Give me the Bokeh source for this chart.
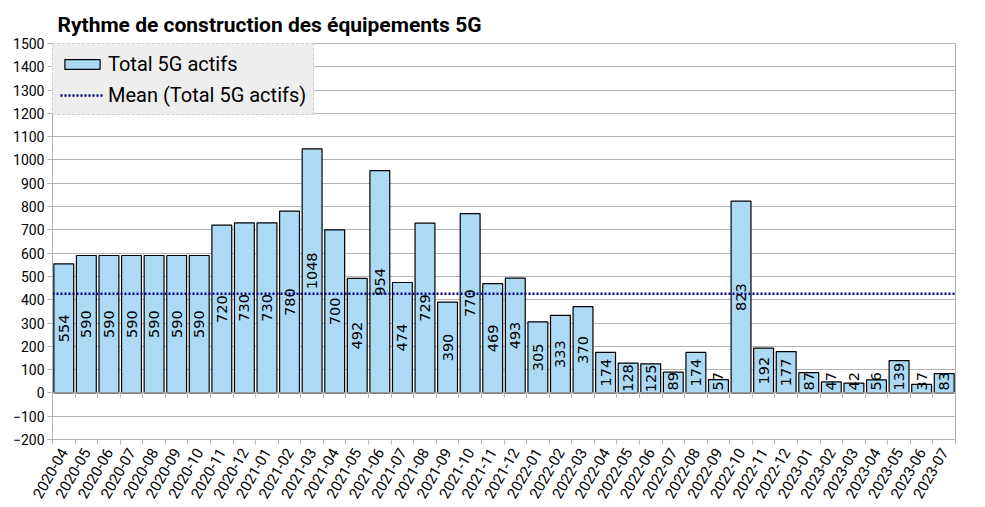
import math
import numpy as np
from bokeh.plotting import figure
from bokeh.models import (ColumnDataSource, FixedTicker, LinearAxis, Range1d,
                          Legend, LegendItem)
from bokeh.core.properties import value
from bokeh.embed import file_html
from bokeh.resources import INLINE

months = ["2020-04", "2020-05", "2020-06", "2020-07", "2020-08", "2020-09",
          "2020-10", "2020-11", "2020-12", "2021-01", "2021-02", "2021-03",
          "2021-04", "2021-05", "2021-06", "2021-07", "2021-08", "2021-09",
          "2021-10", "2021-11", "2021-12", "2022-01", "2022-02", "2022-03",
          "2022-04", "2022-05", "2022-06", "2022-07", "2022-08", "2022-09",
          "2022-10", "2022-11", "2022-12", "2023-01", "2023-02", "2023-03",
          "2023-04", "2023-05", "2023-06", "2023-07"]
total_5g = [554, 590, 590, 590, 590, 590, 590, 720, 730, 730, 780, 1048,
            700, 492, 954, 474, 729, 390, 770, 469, 493, 305, 333, 370,
            174, 128, 125, 89, 174, 57, 823, 192, 177, 87, 47, 42,
            56, 139, 37, 83]
y_ticks = list(range(-200, 1501, 100))

n = len(months)
idx = np.arange(n)
vals = np.array(total_5g, dtype=float)
mean_val = vals.mean()
label_y = np.maximum(vals / 2.0, 50.0)

src = ColumnDataSource(dict(x=idx, top=vals, label=[str(v) for v in total_5g],
                            ly=label_y))

p = figure(width=980, height=505, output_backend="svg", toolbar_location=None,
           x_range=Range1d(-0.5, n - 0.5), y_range=Range1d(-200, 1500),
           min_border_left=52, min_border_right=25, min_border_top=43,
           min_border_bottom=66, title="Rythme de construction des équipements 5G")

p.title.text_font = "Roboto"
p.title.text_font_size = "21px"
p.title.text_font_style = "bold"
p.title.text_color = "black"
p.title.align = "left"
p.title.offset = 5
p.title.standoff = 14

p.outline_line_color = "#b3b3b3"
p.xgrid.visible = False
p.ygrid.ticker = FixedTicker(ticks=y_ticks)
p.ygrid.grid_line_color = "#b3b3b3"
p.background_fill_color = "white"

# y axis
p.yaxis.ticker = FixedTicker(ticks=y_ticks)
p.yaxis.axis_line_color = "#b3b3b3"
p.yaxis.major_tick_line_color = "#b3b3b3"
p.yaxis.major_tick_out = 5
p.yaxis.major_tick_in = 0
p.yaxis.minor_tick_line_color = None
p.yaxis.major_label_text_font = "Roboto"
p.yaxis.major_label_text_font_size = "14px"
p.yaxis.major_label_text_color = "black"
p.yaxis.major_label_standoff = 3

# x axis: labels at centres, ticks at boundaries
boundaries = list(np.arange(-0.5, n, 1.0))
xa = p.xaxis[0]
xa.ticker = FixedTicker(ticks=list(idx), minor_ticks=boundaries)
xa.major_label_overrides = {int(i): m for i, m in zip(idx, months)}
xa.major_label_orientation = math.pi / 3
xa.major_label_text_font = "Roboto"
xa.major_label_text_font_size = "15px"
xa.major_label_text_color = "black"
xa.major_tick_line_color = None
xa.minor_tick_line_color = "#b3b3b3"
xa.minor_tick_out = 5
xa.minor_tick_in = 0
xa.axis_line_color = "#b3b3b3"
xa.major_label_standoff = 4

# axis crossing at zero with boundary ticks
zax = LinearAxis(fixed_location=0,
                 ticker=FixedTicker(ticks=[], minor_ticks=boundaries),
                 axis_line_color="#999999", minor_tick_line_color="#b3b3b3",
                 minor_tick_out=5, minor_tick_in=0,
                 major_tick_line_color=None,
                 major_label_text_font_size="0px")
p.add_layout(zax, "below")

bars = p.vbar(x="x", top="top", bottom=0, width=0.88, source=src,
              fill_color="#acdaf5", line_color="black", line_width=1.2)

mean_line = p.line(x=[p.x_range.start, p.x_range.end], y=[mean_val, mean_val],
                   line_color="#000080", line_width=2.5, line_dash="2 2")

p.text(x="x", y="ly", text="label", source=src, angle=math.pi / 2,
       text_align="center", text_baseline="middle",
       text_font=value("DejaVu Sans"), text_font_size="14.5px",
       text_color="black")

legend = Legend(items=[LegendItem(label="Total 5G actifs", renderers=[bars]),
                       LegendItem(label="Mean (Total 5G actifs)", renderers=[mean_line])],
                location="top_left")
legend.margin = 0
legend.padding = 7
legend.spacing = 6
legend.glyph_width = 44
legend.glyph_height = 12
legend.label_height = 25
legend.label_standoff = 4
legend.label_text_font = "Roboto"
legend.label_text_font_size = "20px"
legend.label_text_color = "black"
legend.background_fill_color = "#eeeeee"
legend.background_fill_alpha = 1
legend.border_line_color = "#b3b3b3"
legend.border_line_dash = "1 1"
p.add_layout(legend, "center")

open("out.html", "w").write(file_html(p, INLINE))
